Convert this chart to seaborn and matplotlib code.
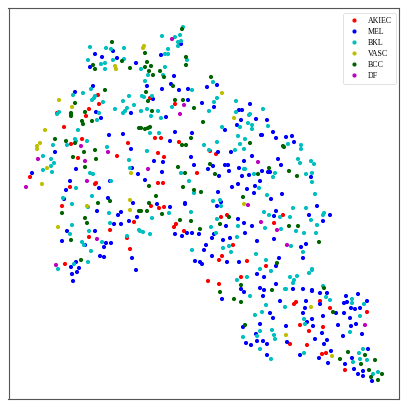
import matplotlib
matplotlib.use("Agg")
import matplotlib.pyplot as plt
import pandas as pd
import seaborn as sns

AKIEC = [(98,95),(99,104),(89,109),(86,116),(57,113),(64,127),(82,139),(150,98),(175,104),(155,138),(161,138),(71,144),(78,158),(117,156),(128,143),(30,177),(70,187),(95,184),(96,183),(62,206),(110,230),(89,237),(134,222),(127,238),(130,249),(65,264),(179,142),(158,153),(164,157),(210,151),(216,154),(197,173),(158,183),(163,183),(151,206),(159,208),(164,207),(221,217),(227,215),(176,224),(174,227),(184,231),(233,245),(222,256),(219,260),(247,261),(266,266),(283,215),(274,223),(208,281),(219,284),(241,277),(294,304),(296,302),(320,301),(330,308),(367,312),(300,325),(323,327),(309,331),(290,344),(307,345),(322,354),(326,353),(345,370)]
MEL = [(95,54),(102,57),(113,51),(117,58),(90,67),(136,63),(93,86),(75,92),(96,112),(101,118),(131,113),(109,135),(123,134),
(181,44),(161,55),(174,76),(171,84),(147,86),(162,89),(179,90),(188,89),(217,85),(207,87),(153,99),(188,100),(202,103),(214,107),(250,104),(239,110),(242,110),(166,117),(241,120),(256,119),(267,120),(237,125),(225,130),(175,132),(192,133),(261,135),(262,135),(170,141),
(273,132),(276,138),(286,137),(292,136),
(55,152),(131,149),(76,169),(132,168),(138,174),(32,173),(70,181),(110,181),(66,190),(99,188),(64,199),(108,198),(133,203),(97,211),(121,212),(118,215),(137,217),(129,221),(114,224),(121,224),(67,231),(95,231),(62,241),(106,243),(111,243),(85,245),(104,247),(100,256),(104,257),(132,258),(76,262),(71,267),(79,268),(77,272),(72,274),(73,281),(136,270),
(218,152),(231,152),(252,156),(191,157),(154,161),(163,162),(194,165),(225,165),(228,165),(244,161),(208,169),(213,166),(229,171),(239,168),(162,172),(219,176),(242,176),(249,175),(262,171),(268,172),(145,180),(238,184),(232,187),(260,181),(255,186),(247,189),(254,193),(218,192),(157,204),(170,207),(185,203),(185,204),(221,202),(217,206),(238,219),(244,223),(252,226),(226,226),(245,233),(230,238),(223,240),(212,238),(175,234),(182,236),(187,233),(192,233),(199,234),(214,234),(206,245),(204,250),(212,256),(257,241),(195,261),(200,262),(202,264),(227,262),(239,262),
(294,142),(278,159),(281,165),(270,172),(311,177),(282,194),(271,199),(317,206),(276,211),(274,216),(309,215),(330,215),(323,221),(274,239),(306,244),(301,247),(303,258),(279,258),(276,266),
(257,274),(264,277),(222,299),(241,289),(244,292),(260,288),(264,290),(276,284),(263,296),(280,301),(270,313),(273,318),(260,324),(286,326),(243,327),(256,334),(257,341),(263,341),(267,344),(246,343),(251,345),(287,342),(267,355),
(293,289),(303,289),(312,290),(312,291),(320,293),(327,293),(306,301),(320,304),(305,308),(303,313),(346,296),(358,294),(367,301),(344,303),(347,302),(351,308),(355,309),(360,308),(336,313),(344,313),(323,316),(350,318),(312,319),(307,322),(313,326),(338,325),(351,326),(356,324),(322,333),(343,336),(362,334),(315,339),(327,340),(324,344),(300,355),(331,351),(319,358),(368,349),(328,363),(352,358),(345,364),(354,369),(363,371),(358,374),(363,376),(372,381)]
BKL = [(90,47),(106,48),(111,49),(124,48),(88,60),(113,60),(124,59),(105,63),(101,64),(105,69),(141,69),
(91,89),(83,93),(73,95),(95,96),(94,98),(92,100),(103,102),(129,96),(123,101),(134,105),(127,108),(125,111),(123,113),(115,109),(99,113),(97,120),(59,112),(57,114),(78,130),(75,139),
(183,27),(162,36),(175,37),(180,35),(178,42),(181,41),(178,46),(168,49),(165,54),(168,54),(187,60),(165,67),(148,75),(163,75),(145,81),(213,82),(192,90),(217,98),(214,102),(209,111),(172,107),(141,111),(147,109),(158,111),(151,116),(161,118),(236,101),(263,109),(236,112),(250,114),(249,115),(248,123),(252,125),(252,129),(268,126),(240,127),(222,127),(238,136),(245,139),(159,133),(150,133),(142,96),(144,97),(152,96),
(53,145),(43,156),(51,159),(54,163),(51,166),(43,170),(52,172),(67,145),(76,141),(87,141),(107,147),(129,160),(90,173),(93,174),(76,188),(92,196),(72,204),(88,207),(109,213),(110,223),(72,225),(89,231),(70,234),(102,242),(82,242),(84,245),(91,251),(88,262),(127,236),(139,230),(58,269),(130,168),(111,181),(63,198),(74,264),
(147,151),(204,145),(217,142),(240,144),(244,149),(235,150),(209,150),(181,173),(189,181),(194,193),(213,201),(220,200),(221,206),(191,212),(169,213),(152,218),(217,219),(211,227),(216,233),(238,226),(237,237),(192,250),(223,248),(229,246),(231,252),(256,254),(266,260),(143,232),(140,231),(150,234),(245,169),(244,169),(254,174),(259,188),(267,195),(264,212),(269,215),(265,228),(260,269),
(288,144),(301,145),(301,149),(298,159),(300,163),(311,161),(314,164),(275,173),(273,177),(306,174),(312,173),(312,182),(315,194),(293,208),(306,208),(324,213),(323,215),(311,220),(280,217),(290,217),(317,225),(281,229),(296,231),(304,233),(316,233),(291,246),(303,252),(312,269),
(247,277),(237,280),(250,296),(271,271),(286,289),(266,305),(285,307),(262,312),(255,315),(260,331),(272,330),(274,335),(275,339),(257,336),(243,337),(260,349),(271,359),
(290,277),(297,276),(294,280),(293,283),(309,273),(312,270),(285,289),(323,286),(326,297),(330,300),(352,299),(352,303),(364,304),(360,316),(304,319),(305,324),(350,332),(304,353),(363,349),(359,353),(360,359),(367,360),(353,362),(373,374),(378,372)]
VASC = [(115,66),(116,69),(59,100),(72,107),(45,130),(144,46),(143,48),(222,93),(234,118),(40,143),(37,146),(37,149),(47,168),(42,184),(87,206),(130,200),(130,210),(58,227),(131,173),(244,204),(286,335),(311,307),(332,356)]
BCC = [(112,42),(122,61),(93,65),(95,69),(130,68),(105,90),(75,103),(71,113),(71,114),(71,116),(85,112),(82,121),(83,124),(92,121),(139,128),(55,139),
(182,29),(186,57),(145,53),(186,65),(147,62),(151,66),(145,67),(149,71),(160,71),(153,75),(164,77),(211,77),(173,86),(146,92),(175,100),(183,100),(148,101),(194,108),(152,111),(203,122),(141,128),(148,128),(150,127),(145,129),(191,138),
(66,141),(75,143),(95,150),(84,152),(73,157),(96,159),(85,167),(98,203),(110,201),(62,213),(85,218),(87,223),(71,240),(81,260),(139,211),
(182,145),(186,145),(250,143),(178,167),(210,164),(185,173),(215,174),(258,174),(269,168),(149,186),(183,187),(194,190),(201,192),(156,196),(149,203),(147,211),(141,211),(162,214),(180,220),(191,221),(229,217),(220,224),(200,229),(243,197),
(283,146),(284,147),(289,171),(297,176),(289,226),(298,226),(319,242),(277,263),
(241,285),(220,292),(234,299),(241,302),(272,290),(245,325),
(324,288),(333,312),(348,352),(365,355),(340,359),(361,364),(375,360),(369,370),(382,374),(371,377),(378,380)]
DF = [(172,39),(184,105),(180,114),(81,146),(108,152),(38,159),(85,161),(26,187),(87,181),(97,239),(56,265),(148,169),(258,162),(248,205),(261,222),(277,230),(287,245),(365,325)]

class_names = ["AKIEC", "MEL", "BKL", "VASC", "BCC", "DF"]
class_points = [AKIEC, MEL, BKL, VASC, BCC, DF]
class_colors = ["#ff0000", "#0000ff", "#00bfbf", "#bfbf00", "#006400", "#bf00bf"]

rows = [(x, y, n) for n, pts in zip(class_names, class_points) for x, y in pts]
df = pd.DataFrame(rows, columns=["x", "y", "label"])

sns.set_theme(style="white")
plt.rcParams["font.family"] = ["Liberation Serif", "DejaVu Serif"]

fig = plt.figure(figsize=(4.08, 4.08), dpi=100)
L, T, R, B = 8.5, 8.5, 399.0, 399.0
ax = fig.add_axes([L / 408, 1 - B / 408, (R - L) / 408, (B - T) / 408])
sns.scatterplot(data=df, x="x", y="y", hue="label", hue_order=class_names,
                palette=dict(zip(class_names, class_colors)), s=9,
                linewidth=0, ax=ax)
ax.set_xlim(L, R)
ax.set_ylim(B, T)
ax.set_xticks([])
ax.set_yticks([])
ax.set_xlabel("")
ax.set_ylabel("")
for s in ax.spines.values():
    s.set_color("#555555")
    s.set_linewidth(0.8)

handles, labels = ax.get_legend_handles_labels()
leg = ax.legend(handles, labels, loc="upper right", fontsize=5.7,
                frameon=True, framealpha=0.8, edgecolor="#cccccc",
                bbox_to_anchor=((396 - L) / (R - L), 1 - (13 - T) / (B - T)),
                borderaxespad=0, labelspacing=0.38, borderpad=0.5,
                handletextpad=0.8, handlelength=1.8, markerscale=1.0)
leg.get_frame().set_linewidth(0.5)
for t in leg.get_texts():
    t.set_color("black")

fig.savefig("out.png", dpi=100)
